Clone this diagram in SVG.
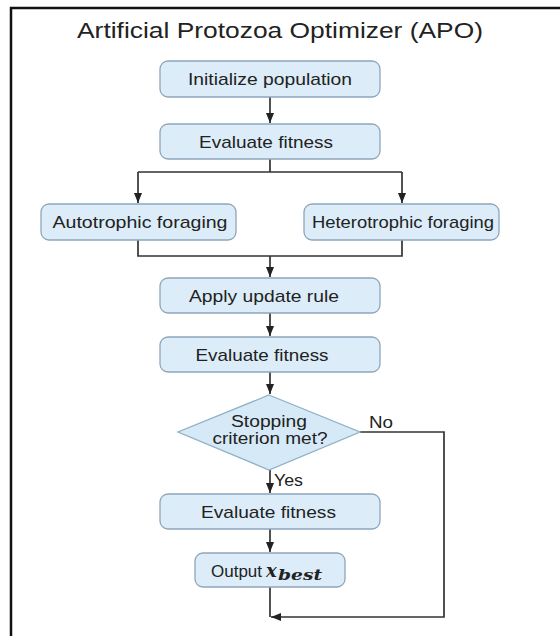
<svg xmlns="http://www.w3.org/2000/svg" width="560" height="636" viewBox="0 0 560 636">
<defs>
<style>
.box{fill:#dcedf9;stroke:#8ea6ba;stroke-width:1.3}
.dia{fill:#d6e9f6;stroke:#8eb0c8;stroke-width:1.3}
.t{font-family:"Liberation Sans",Arial,sans-serif;font-size:17px;fill:#222;text-anchor:middle}
.l{font-family:"Liberation Sans",Arial,sans-serif;font-size:16px;fill:#222}
.c{fill:none;stroke:#333;stroke-width:1.7}
.m{font-family:"DejaVu Serif","Liberation Serif",serif;font-style:italic;font-weight:bold;fill:#222}
</style>
<marker id="ah" markerUnits="userSpaceOnUse" markerWidth="10" markerHeight="10" viewBox="0 0 10 10" refX="10" refY="5" orient="auto">
<path d="M0,1 L10,5 L0,9 Z" fill="#222"/>
</marker>
</defs>
<rect width="560" height="636" fill="#fff"/>
<path d="M11,636 V8 H560" fill="none" stroke="#111" stroke-width="2.5"/>
<text x="280" y="38" font-family="Liberation Sans,Arial,sans-serif" font-size="21.5" fill="#222" text-anchor="middle" textLength="406" lengthAdjust="spacingAndGlyphs">Artificial Protozoa Optimizer (APO)</text>

<g id="connectors">
<path class="c" d="M270,97 V123" marker-end="url(#ah)"/>
<path class="c" d="M270,159 V172 M138,172 H402"/>
<path class="c" d="M138,172 V203" marker-end="url(#ah)"/>
<path class="c" d="M402,172 V203" marker-end="url(#ah)"/>
<path class="c" d="M138,240 V256 H402 V240"/>
<path class="c" d="M270,256 V277" marker-end="url(#ah)"/>
<path class="c" d="M270,313 V336" marker-end="url(#ah)"/>
<path class="c" d="M270,372 V394" marker-end="url(#ah)"/>
<path class="c" d="M270,470 V493" marker-end="url(#ah)"/>
<path class="c" d="M270,529 V552" marker-end="url(#ah)"/>
<path class="c" d="M270,587 V617"/>
<path class="c" d="M360,432 H444 V617 H271" marker-end="url(#ah)"/>
<text class="l" x="369" y="428" textLength="24" lengthAdjust="spacingAndGlyphs">No</text>
<text class="l" x="274" y="486" textLength="29" lengthAdjust="spacingAndGlyphs">Yes</text>
</g>

<g id="init">
<rect class="box" x="160" y="61" width="220" height="36" rx="8"/>
<text class="t" x="270" y="85" textLength="164" lengthAdjust="spacingAndGlyphs">Initialize population</text>
</g>
<g id="eval1">
<rect class="box" x="160" y="124" width="220" height="35" rx="8"/>
<text class="t" x="266" y="147.5" textLength="134" lengthAdjust="spacingAndGlyphs">Evaluate fitness</text>
</g>
<g id="auto">
<rect class="box" x="41" y="204" width="195" height="36" rx="8"/>
<text class="t" x="140" y="228" textLength="175" lengthAdjust="spacingAndGlyphs">Autotrophic foraging</text>
</g>
<g id="hetero">
<rect class="box" x="304" y="204" width="195" height="36" rx="8"/>
<text class="t" x="403" y="228" textLength="182" lengthAdjust="spacingAndGlyphs">Heterotrophic foraging</text>
</g>
<g id="update">
<rect class="box" x="160" y="278" width="220" height="35" rx="8"/>
<text class="t" x="264" y="302" textLength="150" lengthAdjust="spacingAndGlyphs">Apply update rule</text>
</g>
<g id="eval2">
<rect class="box" x="160" y="337" width="220" height="35" rx="8"/>
<text class="t" x="262" y="361" textLength="133" lengthAdjust="spacingAndGlyphs">Evaluate fitness</text>
</g>
<g id="decision">
<polygon class="dia" points="269,395 360,432 269,470 178,432"/>
<text class="t" x="269" y="427" style="font-size:16px" textLength="76" lengthAdjust="spacingAndGlyphs">Stopping</text>
<text class="t" x="270" y="444" style="font-size:16px" textLength="115" lengthAdjust="spacingAndGlyphs">criterion met?</text>
</g>
<g id="eval3">
<rect class="box" x="160" y="494" width="220" height="35" rx="8"/>
<text class="t" x="268.5" y="518" textLength="135" lengthAdjust="spacingAndGlyphs">Evaluate fitness</text>
</g>
<g id="output">
<rect class="box" x="195" y="553" width="150" height="34" rx="8"/>
<text x="211" y="577" font-family="Liberation Sans,Arial,sans-serif" font-size="17" fill="#222">Output</text>
<text class="m" x="266" y="577" font-size="18">x</text>
<text class="m" x="278" y="580" font-size="14" textLength="44" lengthAdjust="spacingAndGlyphs">best</text>
</g>
</svg>
